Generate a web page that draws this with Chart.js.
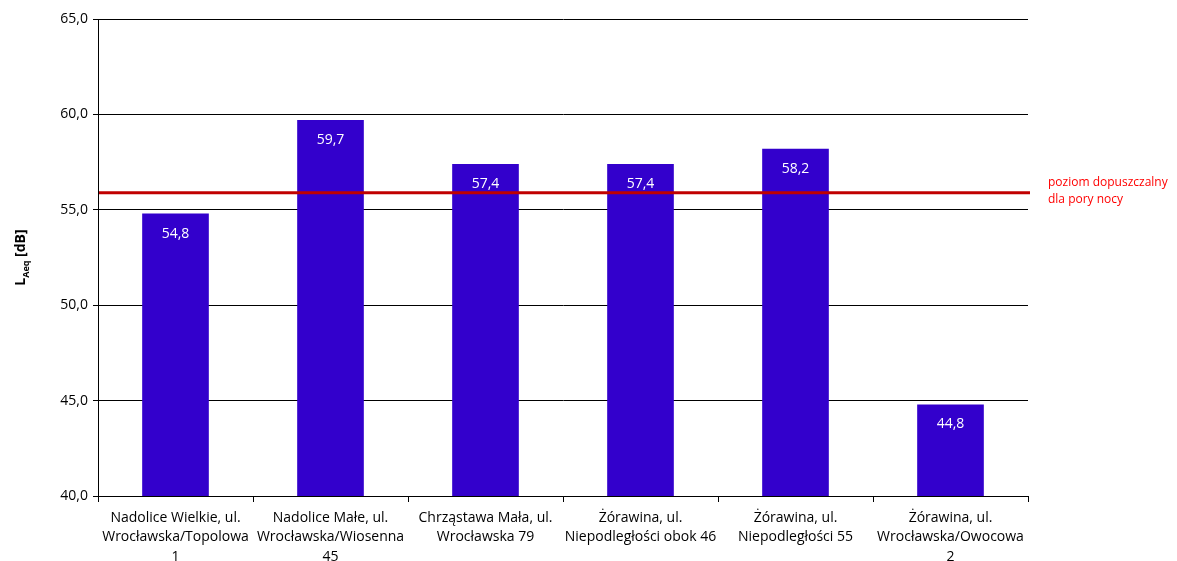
<!DOCTYPE html>
<html>
<head>
<meta charset="utf-8">
<script src="https://cdn.jsdelivr.net/npm/chart.js@4"></script>
<style>
  body { margin: 0; background: #fff; }
  #wrap { width: 1177px; height: 561px; }
</style>
</head>
<body>
<div id="wrap"><canvas id="myChart" width="1177" height="561"></canvas></div>
<script>
const categories = [
  ['Nadolice Wielkie, ul.', 'Wrocławska/Topolowa', '1'],
  ['Nadolice Małe, ul.', 'Wrocławska/Wiosenna', '45'],
  ['Chrząstawa Mała, ul.', 'Wrocławska 79'],
  ['Żórawina, ul.', 'Niepodległości obok 46'],
  ['Żórawina, ul.', 'Niepodległości 55'],
  ['Żórawina, ul.', 'Wrocławska/Owocowa', '2']
];
const values = [54.8, 59.7, 57.4, 57.4, 58.2, 44.8];
const limitValue = 55.9;
const limitLabel = ['poziom dopuszczalny', 'dla pory nocy'];
const yTicks = [40, 45, 50, 55, 60, 65];

const FONT = "'Open Sans', sans-serif";

function fmt(v){
    return v.toFixed(1).replace('.', ',');
}

// white value labels inside the bars
const barLabels = {
    id: 'barLabels',
    afterDatasetsDraw(chart){
        const ctx = chart.ctx;
        const meta = chart.getDatasetMeta(0);
        ctx.save();
        ctx.fillStyle = '#ffffff';
        ctx.font = '14px ' + FONT;
        ctx.textAlign = 'center';
        ctx.textBaseline = 'middle';
        meta.data.forEach(function(bar, i){
            ctx.fillText(fmt(values[i]), bar.x, bar.y + 20);
        });
        ctx.restore();
    }
};

// red limit line + its label, and the axis title with subscript
const extras = {
    id: 'extras',
    afterDatasetsDraw(chart){
        const ctx = chart.ctx;
        const y = chart.scales.y.getPixelForValue(limitValue);
        const area = chart.chartArea;
        ctx.save();
        ctx.strokeStyle = '#c00000';
        ctx.lineWidth = 3;
        ctx.beginPath();
        ctx.moveTo(area.left + 1, y);
        ctx.lineTo(area.right + 2, y);
        ctx.stroke();

        ctx.fillStyle = '#ff0000';
        ctx.font = '12px ' + FONT;
        ctx.textAlign = 'left';
        ctx.textBaseline = 'middle';
        ctx.fillText(limitLabel[0], area.right + 20, y - 10);
        ctx.fillText(limitLabel[1], area.right + 20, y + 7);

        // y axis title
        const cx = 20;
        const cy = (area.top + area.bottom) / 2;
        ctx.translate(cx, cy);
        ctx.rotate(-Math.PI / 2);
        ctx.fillStyle = '#000000';
        ctx.textBaseline = 'alphabetic';
        ctx.font = 'bold 14px ' + FONT;
        const w1 = ctx.measureText('L').width;
        ctx.font = 'bold 9px ' + FONT;
        const w2 = ctx.measureText('Aeq').width;
        ctx.font = 'bold 14px ' + FONT;
        const w3 = ctx.measureText(' [dB]').width;
        let x = -(w1 + w2 + w3) / 2;
        ctx.fillText('L', x, 5);
        x += w1;
        ctx.font = 'bold 9px ' + FONT;
        ctx.fillText('Aeq', x, 9);
        x += w2;
        ctx.font = 'bold 14px ' + FONT;
        ctx.fillText(' [dB]', x, 5);
        ctx.restore();
    }
};

const data = {
    labels: categories,
    datasets: [{
        data: values,
        backgroundColor: '#3300cc',
        barPercentage: 0.43,
        categoryPercentage: 1.0
    }]
};

const config = {
    type: 'bar',
    data: data,
    plugins: [barLabels, extras],
    options: {
        responsive: false,
        animation: false,
        layout: { padding: { left: 0, right: 149, top: 19, bottom: 0 } },
        plugins: {
            legend: { display: false },
            tooltip: { enabled: false }
        },
        scales: {
            x: {
                grid: {
                    offset: true,
                    drawOnChartArea: false,
                    color: '#000',
                    tickLength: 6
                },
                border: { color: '#000', width: 1 },
                ticks: {
                    color: '#000',
                    font: { family: FONT, size: 14, lineHeight: 1.4 },
                    maxRotation: 0,
                    autoSkip: false,
                    padding: 6
                },
                afterFit(scale){ scale.height = 65; }
            },
            y: {
                min: 40,
                max: 65,
                afterBuildTicks(scale){
                    scale.ticks = yTicks.map(function(v){ return { value: v }; });
                },
                grid: { color: '#000', tickLength: 5 },
                border: { color: '#000', width: 1 },
                ticks: {
                    color: '#000',
                    font: { family: FONT, size: 14 },
                    padding: 5,
                    callback: function(v){ return fmt(v); }
                },
                afterFit(scale){ scale.width = 98; }
            }
        }
    }
};

const ctx = document.getElementById('myChart').getContext('2d');
const myChart = new Chart(ctx, config);
</script>
</body>
</html>
